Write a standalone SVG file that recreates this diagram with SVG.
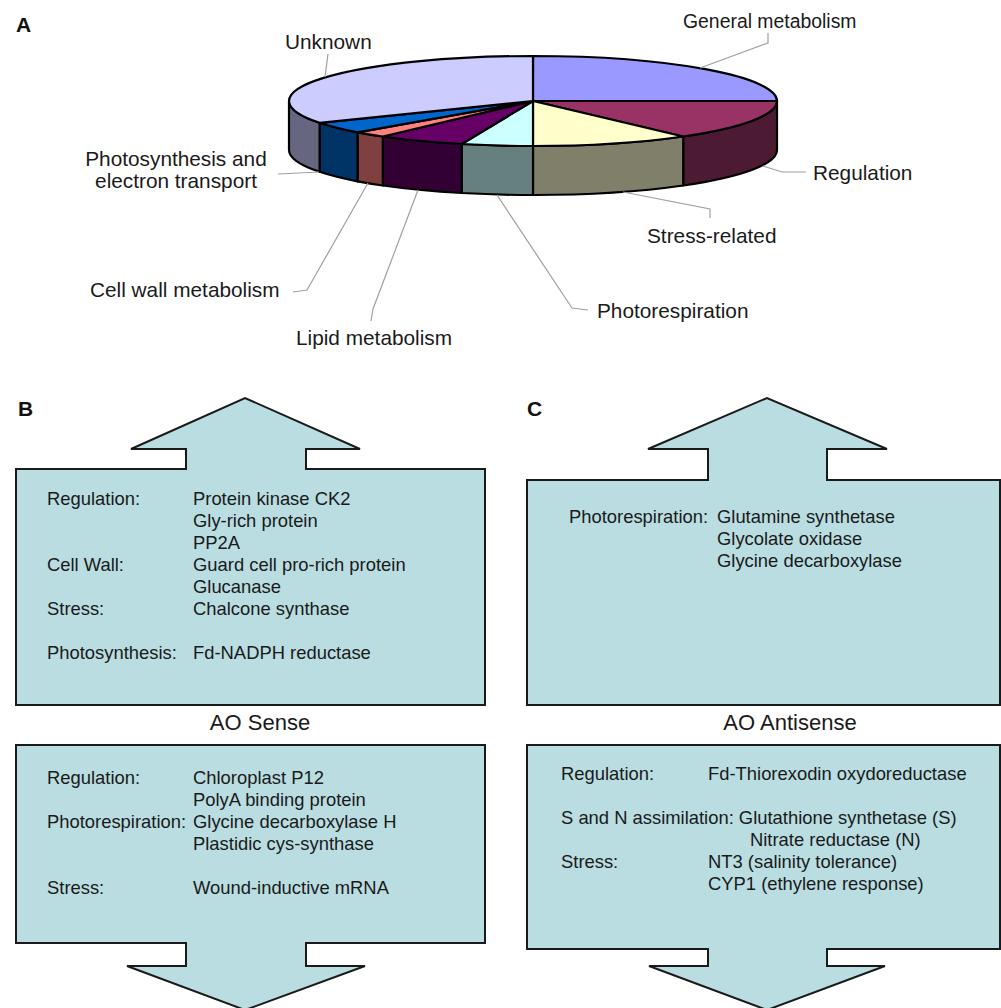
<svg xmlns="http://www.w3.org/2000/svg" width="1001" height="1008" viewBox="0 0 1001 1008">
<style>
.lbl{font-family:"Liberation Sans",Arial,sans-serif;font-size:20.8px;fill:#1a1a1a}
.pl{font-family:"Liberation Sans",Arial,sans-serif;font-size:21px;font-weight:bold;fill:#111}
.bx{font-family:"Liberation Sans",Arial,sans-serif;font-size:18.4px;fill:#1a1a1a}
.ttl{font-family:"Liberation Sans",Arial,sans-serif;font-size:22px;fill:#1a1a1a;text-anchor:middle}
.sl{stroke:#000;stroke-width:2.2;stroke-linejoin:round}
.ld{fill:none;stroke:#a0a0a0;stroke-width:1.2}
.arr{fill:#b9dde1;stroke:#1a1a1a;stroke-width:2;stroke-linejoin:miter}
</style>
<rect width="1001" height="1008" fill="#fff"/>
<text class="pl" x="16" y="32">A</text>
<text class="pl" x="18" y="416">B</text>
<text class="pl" x="527" y="416">C</text>

<g id="pie">
  <g id="sides">
    <path class="sl" fill="#4d1a33" d="M777 101 A244 45 0 0 1 683.2 136.5 L683.2 185.5 A244 45 0 0 0 777 150 Z"/>
    <path class="sl" fill="#80806a" d="M683.2 136.5 A244 45 0 0 1 533 146 L533 195 A244 45 0 0 0 683.2 185.5 Z"/>
    <path class="sl" fill="#668080" d="M533 146 A244 45 0 0 1 461.7 144 L461.7 193 A244 45 0 0 0 533 195 Z"/>
    <path class="sl" fill="#330033" d="M461.7 144 A244 45 0 0 1 382.8 136.5 L382.8 185.5 A244 45 0 0 0 461.7 193 Z"/>
    <path class="sl" fill="#804040" d="M382.8 136.5 A244 45 0 0 1 357.5 132.3 L357.5 181.3 A244 45 0 0 0 382.8 185.5 Z"/>
    <path class="sl" fill="#003366" d="M357.5 132.3 A244 45 0 0 1 319.6 122.8 L319.6 171.8 A244 45 0 0 0 357.5 181.3 Z"/>
    <path class="sl" fill="#666680" d="M319.6 122.8 A244 45 0 0 1 289 101 L289 150 A244 45 0 0 0 319.6 171.8 Z"/>
  </g>
  <g id="tops">
    <path class="sl" fill="#9999ff" d="M533 101 L533 56 A244 45 0 0 1 777 101 Z"/>
    <path class="sl" fill="#993366" d="M533 101 L777 101 A244 45 0 0 1 683.2 136.5 Z"/>
    <path class="sl" fill="#ffffcc" d="M533 101 L683.2 136.5 A244 45 0 0 1 533 146 Z"/>
    <path class="sl" fill="#ccffff" d="M533 101 L533 146 A244 45 0 0 1 461.7 144 Z"/>
    <path class="sl" fill="#660066" d="M533 101 L461.7 144 A244 45 0 0 1 382.8 136.5 Z"/>
    <path class="sl" fill="#ff8080" d="M533 101 L382.8 136.5 A244 45 0 0 1 357.5 132.3 Z"/>
    <path class="sl" fill="#0066cc" d="M533 101 L357.5 132.3 A244 45 0 0 1 319.6 122.8 Z"/>
    <path class="sl" fill="#ccccff" d="M533 101 L319.6 122.8 A244 45 0 0 1 533 56 Z"/>
  </g>
</g>

<g id="leaders">
  <polyline class="ld" points="328,54 325,77"/>
  <polyline class="ld" points="768,33 768,43 700,68"/>
  <polyline class="ld" points="806,172 782,172 763,166"/>
  <polyline class="ld" points="710,218 710,209 623,192"/>
  <polyline class="ld" points="588,310 572,308 497,195"/>
  <polyline class="ld" points="371,321 373,309 418,190"/>
  <polyline class="ld" points="293,292 307,290 368,183"/>
  <polyline class="ld" points="278,174 319,172"/>
</g>

<g id="pie-labels">
  <text class="lbl" x="285" y="49">Unknown</text>
  <text class="lbl" x="683" y="28" style="font-size:19.4px">General metabolism</text>
  <text class="lbl" x="813" y="180">Regulation</text>
  <text class="lbl" x="647" y="243">Stress-related</text>
  <text class="lbl" x="597" y="318">Photorespiration</text>
  <text class="lbl" x="296" y="345">Lipid metabolism</text>
  <text class="lbl" x="90" y="297">Cell wall metabolism</text>
  <text class="lbl" x="176" y="166" text-anchor="middle">Photosynthesis and</text>
  <text class="lbl" x="176" y="188" text-anchor="middle">electron transport</text>
</g>

<g id="B-up">
  <path class="arr" d="M16 469 H186 V449 H131 L245 398 L360 449 H306 V469 H485 V705 H16 Z"/>
  <text class="bx" x="47" y="505">Regulation:</text>
  <text class="bx" x="193" y="505">Protein kinase CK2</text>
  <text class="bx" x="193" y="527">Gly-rich protein</text>
  <text class="bx" x="193" y="549">PP2A</text>
  <text class="bx" x="47" y="571">Cell Wall:</text>
  <text class="bx" x="193" y="571">Guard cell pro-rich protein</text>
  <text class="bx" x="193" y="593">Glucanase</text>
  <text class="bx" x="47" y="615">Stress:</text>
  <text class="bx" x="193" y="615">Chalcone synthase</text>
  <text class="bx" x="47" y="659">Photosynthesis:</text>
  <text class="bx" x="193" y="659">Fd-NADPH reductase</text>
</g>

<g id="B-title"><text class="ttl" x="260" y="730">AO Sense</text></g>

<g id="B-down">
  <path class="arr" d="M16 745 H485 V943 H306 V966 H365 L245 1010 L127 966 H186 V943 H16 Z"/>
  <text class="bx" x="47" y="784">Regulation:</text>
  <text class="bx" x="193" y="784">Chloroplast P12</text>
  <text class="bx" x="193" y="806">PolyA binding protein</text>
  <text class="bx" x="47" y="828">Photorespiration:</text>
  <text class="bx" x="193" y="828">Glycine decarboxylase H</text>
  <text class="bx" x="193" y="850">Plastidic cys-synthase</text>
  <text class="bx" x="47" y="894">Stress:</text>
  <text class="bx" x="193" y="894">Wound-inductive mRNA</text>
</g>

<g id="C-up">
  <path class="arr" d="M527 480 H708 V449 H648 L767 398 L887 449 H827 V480 H1000 V705 H527 Z"/>
  <text class="bx" x="569" y="523">Photorespiration:</text>
  <text class="bx" x="717" y="523">Glutamine synthetase</text>
  <text class="bx" x="717" y="545">Glycolate oxidase</text>
  <text class="bx" x="717" y="567">Glycine decarboxylase</text>
</g>

<g id="C-title"><text class="ttl" x="790" y="730">AO Antisense</text></g>

<g id="C-down">
  <path class="arr" d="M527 745 H1000 V949 H827 V966 H885 L767 1010 L649 966 H708 V949 H527 Z"/>
  <text class="bx" x="561" y="780">Regulation:</text>
  <text class="bx" x="708" y="780">Fd-Thiorexodin oxydoreductase</text>
  <text class="bx" x="561" y="824">S and N assimilation: Glutathione synthetase (S)</text>
  <text class="bx" x="750" y="846">Nitrate reductase (N)</text>
  <text class="bx" x="561" y="868">Stress:</text>
  <text class="bx" x="708" y="868">NT3 (salinity tolerance)</text>
  <text class="bx" x="708" y="890">CYP1 (ethylene response)</text>
</g>
</svg>
